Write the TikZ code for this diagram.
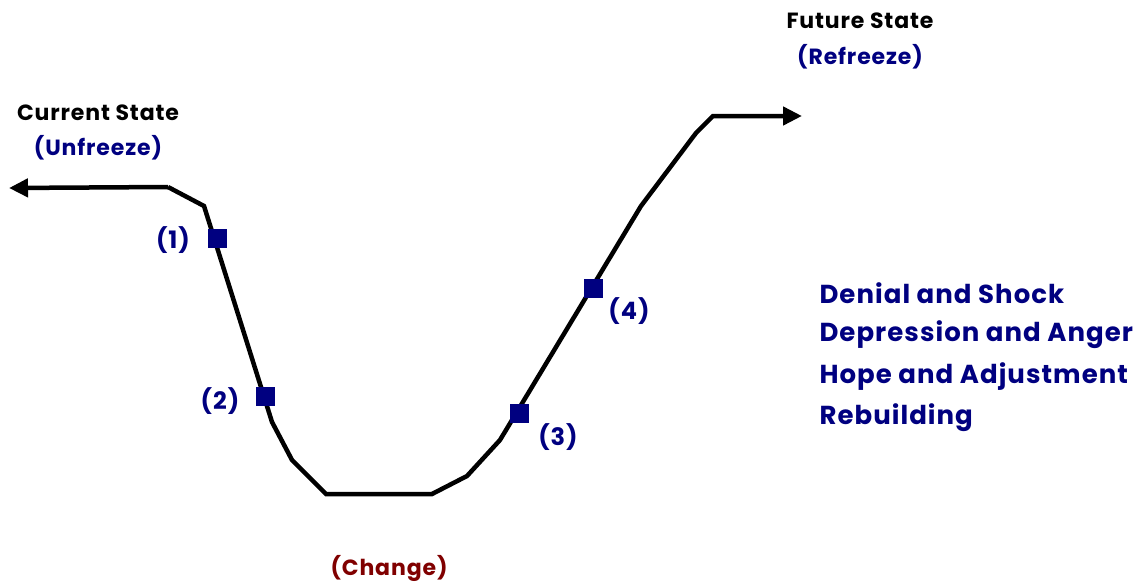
\documentclass[tikz,border=0pt]{standalone}
\usepackage{fontspec}
\setmainfont{Poppins}[LetterSpace=4]
\usetikzlibrary{arrows.meta}
\definecolor{navyc}{RGB}{0,0,128}
\definecolor{darkredc}{RGB}{128,0,0}
\tikzset{
  curve/.style={line width=4.5pt, line join=miter, -{Triangle[length=19pt,width=18pt]}},
  marker/.style={fill=navyc, minimum size=19pt, inner sep=0pt, draw=none, rectangle},
  numlbl/.style={text=navyc, font=\bfseries\fontsize{24}{26}\selectfont},
  titlelbl/.style={text=black, font=\bfseries\fontsize{22}{24}\selectfont},
  sublbl/.style={text=navyc, font=\bfseries\fontsize{22}{24}\selectfont},
  listlbl/.style={text=navyc, font=\bfseries\fontsize{26}{42}\selectfont, anchor=west, align=left},
}
\begin{document}
\begin{tikzpicture}[x=1pt,y=-1pt]
\useasboundingbox (0,0) rectangle (1141,584);
% curve points
\coordinate (a) at (168,187);
\coordinate (b) at (204,206);
\coordinate (c) at (272,422);
\coordinate (d) at (292,460);
\coordinate (e) at (326,494);
\coordinate (f) at (432,494);
\coordinate (g) at (467,476);
\coordinate (h) at (500,440);
\coordinate (i) at (641,206);
\coordinate (j) at (696,133);
\coordinate (k) at (713,116);
\coordinate (startL) at (9,188);
\coordinate (endR) at (802,116);
\draw[curve] (a) -- (startL);
\draw[curve] (a) -- (b) -- (c) -- (d) -- (e) -- (f) -- (g) -- (h) -- (i) -- (j) -- (k) -- (endR);
% markers
\node[marker] (m1) at (217,238) {};
\node[marker] (m2) at (265,396) {};
\node[marker] (m3) at (519,413) {};
\node[marker] (m4) at (593,288) {};
% number labels
\node[numlbl] (l1) at (173,240) {(1)};
\node[numlbl] (l2) at (220,401) {(2)};
\node[numlbl] (l3) at (558,437) {(3)};
\node[numlbl] (l4) at (629,311) {(4)};
% titles
\node[titlelbl] (cs) at (98,113) {Current State};
\node[sublbl] (uf) at (98,148) {(Unfreeze)};
\node[titlelbl] (fs) at (860,21) {Future State};
\node[sublbl] (rf) at (860,57) {(Refreeze)};
\node[text=darkredc, font=\bfseries\fontsize{22}{24}\selectfont] (ch) at (389,568) {(Change)};
% list
\node[listlbl] (d1) at (816,293) {Denial and Shock};
\node[listlbl] (d2) at (816,335) {Depression and Anger};
\node[listlbl] (d3) at (816,377) {Hope and Adjustment};
\node[listlbl] (d4) at (816,418) {Rebuilding};
\end{tikzpicture}
\end{document}
